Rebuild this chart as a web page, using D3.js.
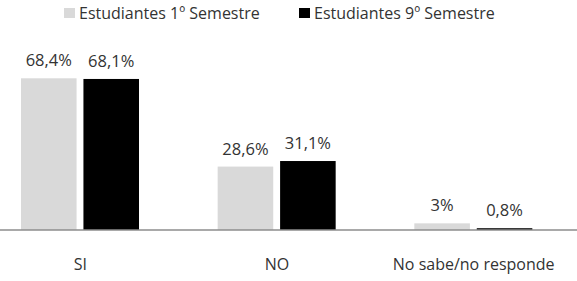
<!DOCTYPE html>
<html>
<head>
<meta charset="utf-8">
<script src="https://cdn.jsdelivr.net/npm/d3@7"></script>
<style>
  body { margin: 0; background: #fff; }
  svg text { font-family: "Open Sans", sans-serif; fill: #333; }
</style>
</head>
<body>
<svg id="chart" width="577" height="281"></svg>
<script>
// data
var categories = ["SI", "NO", "No sabe/no responde"];
var series_names = ["Estudiantes 1º Semestre", "Estudiantes 9º Semestre"];
var primer_semestre = [68.4, 28.6, 3];
var noveno_semestre = [68.1, 31.1, 0.8];
var value_labels_1 = ["68,4%", "28,6%", "3%"];
var value_labels_9 = ["68,1%", "31,1%", "0,8%"];
var colors = ["#d9d9d9", "#000000"];

var svg = d3.select("#chart"),
    width = 577,
    height = 281;

var baseline = 230;

// band centers sit near 80, 277, 474
var x = d3.scaleBand()
    .domain(categories)
    .range([-18, 572])
    .paddingInner(0)
    .paddingOuter(0);

var x_inner = d3.scaleBand()
    .domain([0, 1])
    .range([39, 157])
    .paddingInner(0.11);

var y = d3.scaleLinear()
    .domain([0, 68.4])
    .range([baseline, 78.3]);

var rows = [];
categories.forEach(function(c, i){
  rows.push({cat: c, s: 0, v: primer_semestre[i], label: value_labels_1[i]});
  rows.push({cat: c, s: 1, v: noveno_semestre[i], label: value_labels_9[i]});
});

var bars = svg.append("g");

bars.selectAll("rect")
    .data(rows)
    .enter().append("rect")
      .attr("x", function(d) { return x(d.cat) + x_inner(d.s); })
      .attr("y", function(d) { return y(d.v); })
      .attr("width", x_inner.bandwidth())
      .attr("height", function(d) { return baseline - y(d.v); })
      .attr("fill", function(d) { return colors[d.s]; });

// value labels above each bar
bars.selectAll("text")
    .data(rows)
    .enter().append("text")
      .attr("x", function(d) { return x(d.cat) + x_inner(d.s) + x_inner.bandwidth() / 2; })
      .attr("y", function(d) { return y(d.v) - 12; })
      .attr("text-anchor", "middle")
      .style("font-size", "16.5px")
      .text(function(d) { return d.label; });

// x axis
var axis = svg.append("g")
    .attr("transform", "translate(0," + baseline + ")")
    .call(d3.axisBottom(x).tickSize(0).tickPadding(0));
axis.select(".domain").remove();
axis.append("line")
    .attr("x1", 0).attr("x2", width)
    .attr("stroke", "#8c8c8c").attr("stroke-width", 1.5);
axis.selectAll(".tick text")
    .attr("y", 40)
    .attr("dy", 0)
    .style("font-size", "16px")
    .style("font-family", "\"Open Sans\", sans-serif")
    .attr("fill", "#333");

// legend
var legend_x = [64, 299];
var legend = svg.append("g");
var item = legend.selectAll("g")
    .data(series_names)
    .enter().append("g")
      .attr("transform", function(d, i) { return "translate(" + legend_x[i] + ",0)"; });
item.append("rect")
    .attr("y", 8)
    .attr("width", 11)
    .attr("height", 10)
    .attr("fill", function(d, i) { return colors[i]; });
item.append("text")
    .attr("x", 15)
    .attr("y", 19)
    .style("font-size", "16px")
    .text(function(d) { return d; });
</script>
</body>
</html>
